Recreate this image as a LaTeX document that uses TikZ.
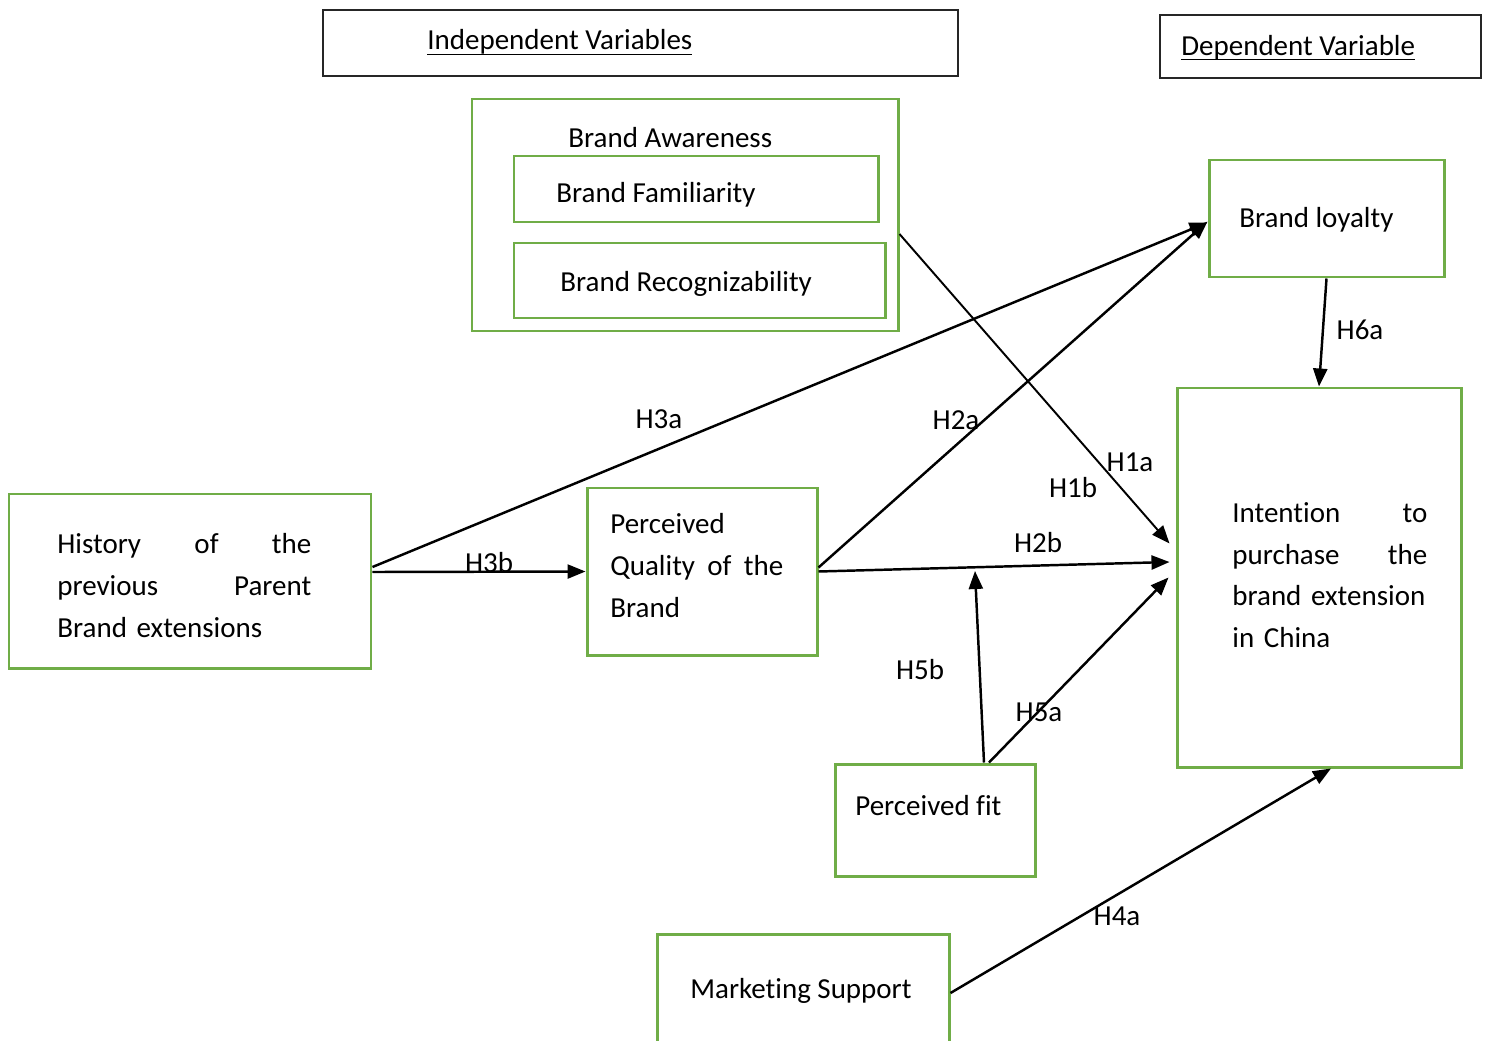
\documentclass[tikz,border=0pt]{standalone}
\usepackage{fontspec}
\setmainfont{Carlito}[Ligatures=NoCommon]
\usetikzlibrary{arrows.meta, fit}
\definecolor{boxgreen}{HTML}{70AD47}
\newcommand{\uln}[1]{\setbox0\hbox{#1}\rlap{\rule[-3pt]{\wd0}{0.8pt}}\box0}

\begin{document}
\begin{tikzpicture}[x=0.02cm, y=-0.02cm,
		gbox/.style={draw=boxgreen, line width=1.7pt, inner sep=0pt},
		hbox/.style={draw=black!85, line width=0.85pt, inner sep=0pt},
		txt/.style={inner sep=0pt, font=\fontsize{16.5}{23.8}\selectfont},
		link/.style={line width=1.4pt, -{Triangle[length=0.36cm, width=0.28cm]}},
		hyp/.style={inner sep=0pt, font=\fontsize{16.5}{19}\selectfont}]
		% canvas
		\clip (0,0) rectangle (1491,1041);

		% header boxes
		\node[hbox, fit={(323,10) (958,76)}] (indep) {};
		\node[txt, anchor=base west] (indeptxt) at (427,50) {\uln{Independent Variables}};
		\node[hbox, fit={(1160,15) (1481,78)}] (dep) {};
		\node[txt, anchor=base west] (deptxt) at (1181,55) {\uln{Dependent Variable}};

		% brand awareness block
		\node[gbox, fit={(472,99) (898,331)}] (aware) {};
		\node[txt, anchor=base west] (awaretxt) at (568,147) {Brand Awareness};
		\node[gbox, fit={(514,156) (878,222)}] (famil) {};
		\node[txt, anchor=base west] (familtxt) at (556,202) {Brand Familiarity};
		\node[gbox, fit={(514,243) (885,318)}] (recog) {};
		\node[txt, anchor=base west] (recogtxt) at (560,291) {Brand Recognizability};

		% other constructs
		\node[gbox, fit={(1209,160) (1444,277)}] (loyal) {};
		\node[txt, anchor=base west] (loyaltxt) at (1239,227) {Brand loyalty};
		\node[gbox, fit={(1177,388) (1461,767)}] (intent) {};
		\node[txt, anchor=north west, text width=3.9cm, align=left] (intenttxt) at (1232,502)
			{Intention \hfill to\\ purchase \hfill the\\ brand extension\\ in China};
		\node[gbox, fit={(9,494) (371,668)}] (hist) {};
		\node[txt, anchor=north west, text width=5.08cm, align=left] (histtxt) at (57,533)
			{History \hfill of \hfill the\\ previous \hfill Parent\\ Brand extensions};
		\node[gbox, fit={(587,488) (817,655)}] (qual) {};
		\node[txt, anchor=north west, text width=3.46cm, align=left] (qualtxt) at (610,513)
			{Perceived\\ Quality \hfill of \hfill the\\ Brand};
		\node[gbox, fit={(835,764) (1035,876)}] (pfit) {};
		\node[txt, anchor=base west] (pfittxt) at (855,815) {Perceived fit};
		\node[gbox, fit={(657,934) (949,1052)}] (mkt) {};
		\node[txt, anchor=base west] (mkttxt) at (690,998) {Marketing Support};

		% hypotheses
		\coordinate (mod) at (975,571);
		\draw[link] ([yshift=0.28cm]hist.east) -- ([yshift=-0.08cm]loyal.west);
		\draw[link] ([yshift=0.18cm]hist.east) -- (qual.west);
		\draw[link] ([yshift=0.08cm]qual.east) -- ([yshift=-0.06cm]loyal.west);
		\draw[link] (qual.east) -- ([xshift=-0.12cm, yshift=0.31cm]intent.west);
		\draw[link, line width=1.1pt] ([yshift=-0.38cm]aware.east) -- ([xshift=-0.12cm, yshift=0.68cm]intent.west);
		\draw[link] ([xshift=0.98cm]pfit.north) -- (mod);
		\draw[link] ([xshift=1.08cm]pfit.north) -- ([xshift=-0.14cm]intent.west);
		\draw[link] (loyal.south) -- (intent.north);
		\draw[link] (mkt.east) -- ([xshift=0.24cm]intent.south);

		% labels
		\node[hyp] (h3a) at (659,419) {H3a};
		\node[hyp] (h3b) at (489,563) {H3b};
		\node[hyp] (h2a) at (956,420) {H2a};
		\node[hyp] (h1a) at (1130,462) {H1a};
		\node[hyp] (h1b) at (1073,488) {H1b};
		\node[hyp] (h2b) at (1038,543) {H2b};
		\node[hyp] (h5b) at (920,670) {H5b};
		\node[hyp] (h5a) at (1039,712) {H5a};
		\node[hyp] (h6a) at (1360,330) {H6a};
		\node[hyp] (h4a) at (1117,916) {H4a};
\end{tikzpicture}
\end{document}
